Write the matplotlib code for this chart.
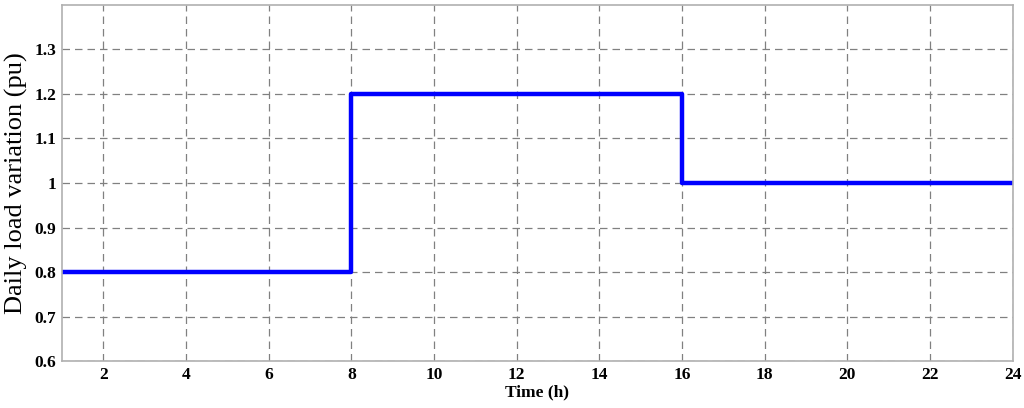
import numpy as np
import matplotlib.pyplot as plt

# load profile (pu) over the day
hours = [1, 8, 16, 24]
load = [0.8, 1.2, 1.0, 1.0]
xticks = np.arange(2, 25, 2)
yticks = [0.6, 0.7, 0.8, 0.9, 1.0, 1.1, 1.2, 1.3]
ytick_labels = ['0.6', '0.7', '0.8', '0.9', '1', '1.1', '1.2', '1.3']

plt.rcParams['font.family'] = ['Liberation Serif', 'DejaVu Serif']

fig = plt.figure(figsize=(10.24, 4.08), dpi=100)
ax = fig.add_axes([0.0605, 0.115, 0.9285, 0.873])

ax.step(hours, load, where='post', color='#0000ff', linewidth=3.2)

ax.set_xlim(1, 24)
ax.set_ylim(0.6, 1.4)
ax.set_xticks(xticks)
ax.set_yticks(yticks)
ax.set_yticklabels(ytick_labels)
ax.tick_params(length=0, labelsize=12.5, pad=4)
for lbl in ax.get_xticklabels() + ax.get_yticklabels():
    lbl.set_fontweight('bold')

ax.grid(True, color='#808080', linestyle=(0, (6, 4)), linewidth=0.9)
for s in ax.spines.values():
    s.set_color('#b0b0b0')
    s.set_linewidth(1.2)

ax.set_xlabel('Time (h)', fontsize=12.5, fontweight='bold', labelpad=1)
ax.set_ylabel('Daily load variation (pu)', fontsize=19, labelpad=5)

fig.savefig('out.png', dpi=100)
